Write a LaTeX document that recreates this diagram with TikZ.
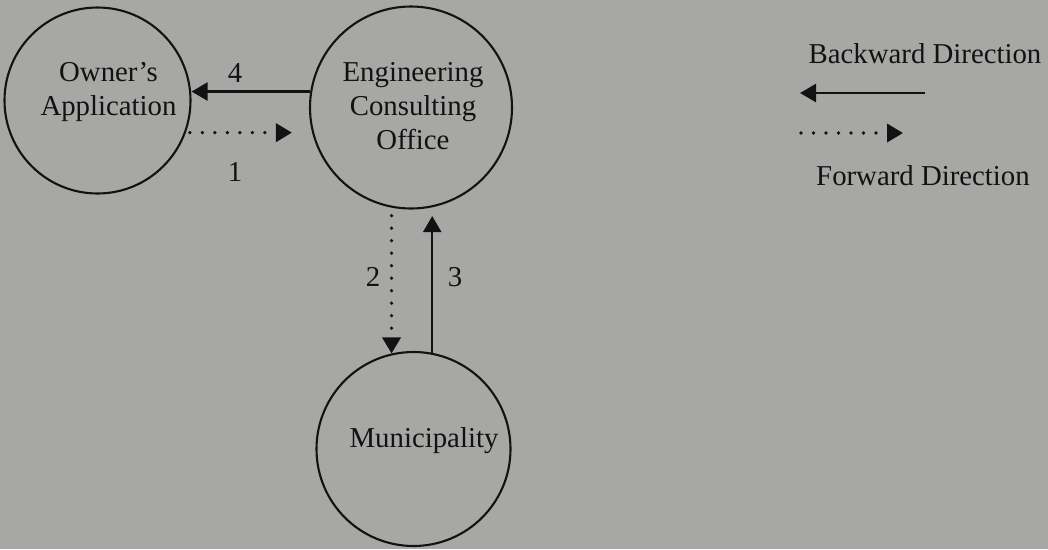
\documentclass[tikz,border=0pt]{standalone}
\usepackage{fontspec}
\setmainfont{Liberation Serif}
\usetikzlibrary{arrows.meta}
\definecolor{paper}{RGB}{167,167,165}
\definecolor{ink}{RGB}{18,18,18}
\begin{document}
\begin{tikzpicture}[x=1pt,y=-1pt,
  every node/.style={font=\fontsize{28.8}{34}\selectfont, text=ink},
  party/.style={draw=ink, line width=2.1pt, circle, inner sep=0pt},
  tip/.style={-{Triangle[length=16pt,width=18pt]}},
  backarrow/.style={draw=ink, line width=2.3pt, tip},
  fwdarrow/.style={draw=ink, line width=3.6pt, line cap=round,
                   dash pattern=on 0pt off 12.5pt, tip},
]
% page
\fill[paper] (0,0) rectangle (1048,549);

% the three parties
\node[party, minimum size=186pt] (own) at (97.5,100.5) {};
\node[party, minimum size=202pt] (eng) at (411,107.5) {};
\node[party, minimum size=194pt] (mun) at (413.5,449) {};

\node[align=center] (own-text) at ([xshift=11pt,yshift=8.5pt]own.center) {Owner's\\Application};
\node[align=center] (eng-text) at ([xshift=2pt,yshift=1pt]eng.center) {Engineering\\Consulting\\Office};
\node (mun-text) at ([xshift=10.5pt,yshift=8.5pt]mun.center) {Municipality};

% exchanges
\draw[backarrow] (eng.171.2) -- (eng.171.2 -| own.east);
\draw[fwdarrow, shorten <=4pt, shorten >=17pt] (own.-20) -- (own.-20 -| eng.west);
\draw[fwdarrow, shorten <=8pt] (eng.-101.4) -- (eng.-101.4 |- mun.103.4);
\draw[backarrow, shorten >=6.5pt] (mun.79) -- (mun.79 |- eng.south);

\node (n4) at (235,73) {4};
\node (n1) at (235,172) {1};
\node (n2) at (373,277) {2};
\node (n3) at (455,277) {3};

% legend
\node[anchor=base] (bk-label) at (925,63) {Backward Direction};
\coordinate (bk-start) at (925,93);
\coordinate (bk-end) at (800,93);
\draw[backarrow] (bk-start) -- (bk-end);
\coordinate (fw-start) at (801,133);
\coordinate (fw-end) at (903,133);
\draw[fwdarrow] (fw-start) -- (fw-end);
\node[anchor=base] (fw-label) at (923,185) {Forward Direction};
\end{tikzpicture}
\end{document}
